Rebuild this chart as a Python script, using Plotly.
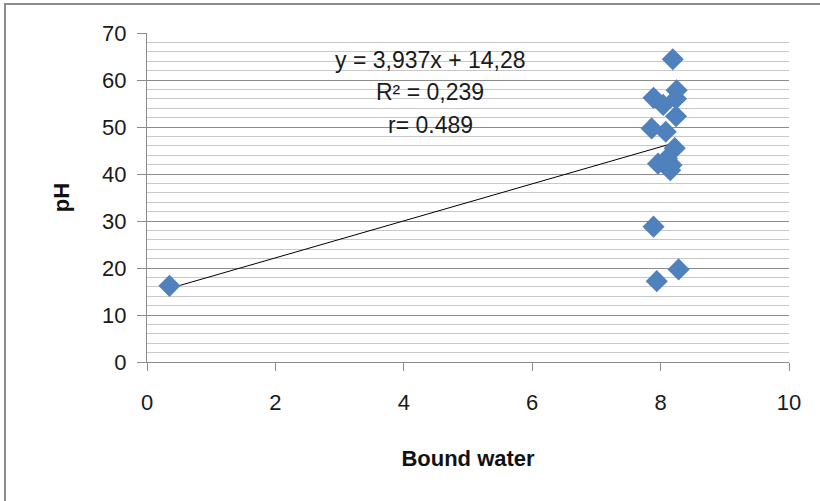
import plotly.graph_objects as go

bound_water = [0.35, 8.19, 8.25, 7.89, 8.24, 8.04, 8.24, 7.86, 8.08, 8.22, 7.96, 8.17, 8.15, 8.10, 7.89, 8.28, 7.94]
ph = [16.2, 64.4, 57.8, 56.2, 56.0, 54.7, 52.3, 49.7, 49.0, 45.5, 42.2, 41.9, 40.8, 43.3, 28.8, 19.7, 17.2]

slope = 3.937
intercept = 14.28
eq_lines = ["y = 3,937x + 14,28", "R² = 0,239", "r= 0.489"]
eq_y = [64.3, 57.4, 50.4]

x_min, x_max = min(bound_water), max(bound_water)
line_x = [x_min, x_max]
line_y = [slope * v + intercept for v in line_x]

fig = go.Figure()
fig.add_trace(go.Scatter(x=line_x, y=line_y, mode="lines",
                         line=dict(color="black", width=1), hoverinfo="skip"))
fig.add_trace(go.Scatter(x=bound_water, y=ph, mode="markers",
                         marker=dict(symbol="diamond", size=17, color="#4F81BD",
                                     line=dict(width=0))))

for t, yy in zip(eq_lines, eq_y):
    fig.add_annotation(x=4.41, y=yy, text=t, showarrow=False,
                       font=dict(size=23, color="#1a1a1a"))

fig.add_shape(type="rect", xref="paper", yref="paper",
              x0=-0.2212, x1=1.06, y0=-0.5, y1=1.088,
              line=dict(color="#8c8c8c", width=2), layer="below")

fig.update_layout(
    width=820, height=501,
    margin=dict(l=147, r=31, t=33, b=139),
    plot_bgcolor="white", paper_bgcolor="white",
    showlegend=False,
    font=dict(family="Liberation Sans, Arial", size=22, color="#1a1a1a"),
    xaxis=dict(range=[0, 10], dtick=2, showgrid=False, zeroline=False,
               showline=True, linecolor="#8c8c8c", linewidth=1,
               ticks="outside", ticklen=8, tickcolor="#8c8c8c",
               ticklabelstandoff=13,
               title=dict(text="<b>Bound water</b>", standoff=36,
                          font=dict(size=22, color="#111111")),
               tickfont=dict(size=22)),
    yaxis=dict(range=[0, 70], dtick=10, showgrid=True, gridcolor="#8c8c8c",
               gridwidth=1, zeroline=False,
               showline=True, linecolor="#8c8c8c", linewidth=1,
               ticks="outside", ticklen=9, tickcolor="#8c8c8c",
               ticklabelstandoff=6,
               minor=dict(dtick=2, showgrid=True, gridcolor="#c8c8c8", gridwidth=1),
               title=dict(text="<b>pH</b>", standoff=26,
                          font=dict(size=22, color="#111111")),
               tickfont=dict(size=22)),
)
fig.write_html("out.html")
